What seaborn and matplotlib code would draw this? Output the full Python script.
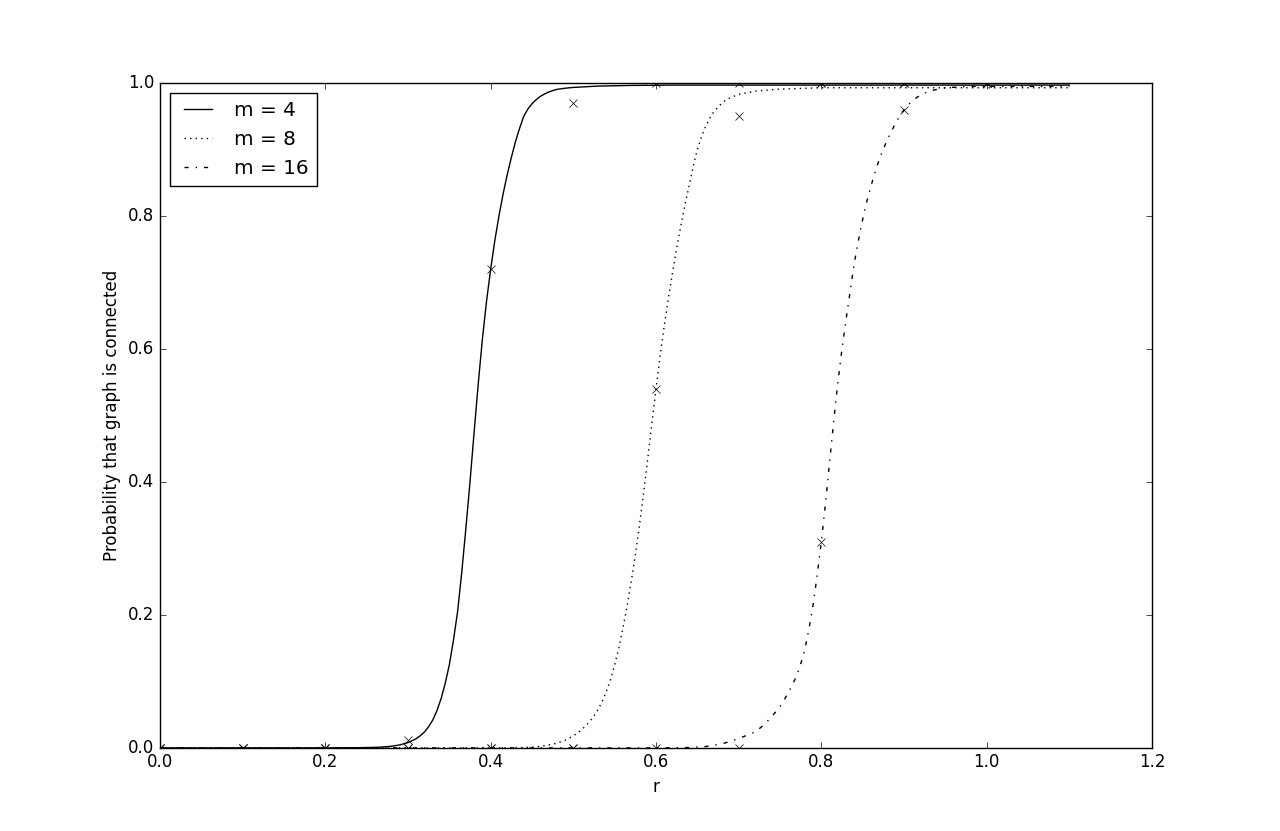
import pandas as pd
import matplotlib
matplotlib.use("Agg")
import matplotlib.pyplot as plt
import seaborn as sns

# simulated points (x markers), r = 0.0 .. 1.0
r_sim = [0.0, 0.1, 0.2, 0.3, 0.4, 0.5, 0.6, 0.7, 0.8, 0.9, 1.0]
p_sim_m4 = [0.0, 0.0, 0.0, 0.012, 0.72, 0.97, 1.0, 1.0, 1.0, 1.0, 1.0]
p_sim_m8 = [0.0, 0.0, 0.0, 0.0, 0.0, 0.0, 0.54, 0.95, 1.0, 1.0, 1.0]
p_sim_m16 = [0.0, 0.0, 0.0, 0.0, 0.0, 0.0, 0.0, 0.0, 0.31, 0.96, 1.0]

# fitted curves
r_m4 = [0.0, 0.20, 0.22, 0.24, 0.26, 0.27, 0.28, 0.29,
        0.300, 0.305, 0.310, 0.315, 0.320, 0.325, 0.330, 0.335, 0.340, 0.345,
        0.350, 0.355, 0.360, 0.365, 0.370, 0.375, 0.380, 0.385, 0.390, 0.395,
        0.400, 0.405, 0.410, 0.415, 0.420, 0.425, 0.430, 0.435, 0.440, 0.445,
        0.450, 0.455, 0.460, 0.465, 0.470, 0.475, 0.480,
        0.49, 0.50, 0.53, 0.57, 0.62, 1.10]
p_m4 = [0.0, 0.0, 0.0001, 0.0003, 0.0008, 0.0014, 0.0025, 0.0045,
        0.008, 0.0108, 0.014, 0.0185, 0.024, 0.032, 0.042, 0.056, 0.074, 0.097,
        0.125, 0.162, 0.205, 0.264, 0.33, 0.40, 0.475, 0.548, 0.615, 0.672,
        0.72, 0.763, 0.80, 0.833, 0.862, 0.888, 0.912, 0.932, 0.95, 0.961,
        0.969, 0.975, 0.98, 0.9835, 0.9865, 0.9887, 0.9905,
        0.9923, 0.9935, 0.9955, 0.9965, 0.997, 0.997]

r_m8 = [0.0, 0.40, 0.44, 0.46, 0.48, 0.49, 0.50, 0.51, 0.52,
        0.525, 0.530, 0.535, 0.540, 0.545, 0.550, 0.555, 0.560, 0.565, 0.570,
        0.575, 0.580, 0.585, 0.590, 0.595, 0.600, 0.605, 0.610, 0.615, 0.620,
        0.625, 0.630, 0.635, 0.640, 0.645, 0.650, 0.655, 0.660, 0.665, 0.670,
        0.675, 0.680, 0.685,
        0.69, 0.70, 0.72, 0.75, 0.80, 1.10]
p_m8 = [0.0, 0.0, 0.0005, 0.002, 0.007, 0.0115, 0.018, 0.027, 0.040,
        0.048, 0.058, 0.070, 0.085, 0.103, 0.125, 0.150, 0.18, 0.213, 0.25,
        0.290, 0.335, 0.384, 0.435, 0.488, 0.54, 0.590, 0.635, 0.677, 0.715,
        0.752, 0.785, 0.817, 0.845, 0.875, 0.90, 0.919, 0.935, 0.947, 0.957,
        0.964, 0.970, 0.975,
        0.978, 0.983, 0.988, 0.991, 0.993, 0.993]

r_m16 = [0.0, 0.60, 0.64, 0.66, 0.68, 0.70, 0.72, 0.73, 0.74, 0.75,
         0.755, 0.760, 0.765, 0.770, 0.775, 0.780, 0.785, 0.790, 0.795, 0.800,
         0.805, 0.810, 0.815, 0.820, 0.825, 0.830, 0.835, 0.840, 0.845, 0.850,
         0.855, 0.860, 0.865, 0.870, 0.875, 0.880, 0.885, 0.890, 0.895, 0.900,
         0.905, 0.910, 0.915, 0.920,
         0.93, 0.95, 0.98, 1.10]
p_m16 = [0.0, 0.0, 0.0005, 0.002, 0.006, 0.014, 0.024, 0.034, 0.047, 0.062,
         0.072, 0.083, 0.095, 0.108, 0.126, 0.148, 0.179, 0.215, 0.26, 0.31,
         0.368, 0.43, 0.492, 0.55, 0.60, 0.645, 0.688, 0.73, 0.764, 0.795,
         0.822, 0.845, 0.866, 0.885, 0.901, 0.915, 0.928, 0.94, 0.951, 0.96,
         0.967, 0.973, 0.978, 0.982,
         0.988, 0.993, 0.995, 0.995]

plt.style.use("classic")

fig, ax = plt.subplots(figsize=(12.8, 8.31), dpi=100)

curves = [
    ("m = 4", r_m4, p_m4, "-", p_sim_m4),
    ("m = 8", r_m8, p_m8, ":", p_sim_m8),
    ("m = 16", r_m16, p_m16, "-.", p_sim_m16),
]

for label, r, p, ls, p_sim in curves:
    df = pd.DataFrame({"r": r, "p": p})
    sns.lineplot(data=df, x="r", y="p", ax=ax, color="k", linestyle=ls,
                 linewidth=1.0, label=label, sort=False)
    pts = pd.DataFrame({"r": r_sim, "p": p_sim})
    sns.lineplot(data=pts, x="r", y="p", ax=ax, color="k", linestyle="none",
                 marker="x", markersize=6, markeredgewidth=0.5,
                 markeredgecolor="k", sort=False)

ax.set_xlim(0.0, 1.2)
ax.set_ylim(0.0, 1.0)
ax.set_xlabel("r")
ax.set_ylabel("Probability that graph is connected")
ax.legend(loc="upper left")

plt.savefig("out.png", dpi=100)
plt.close()
